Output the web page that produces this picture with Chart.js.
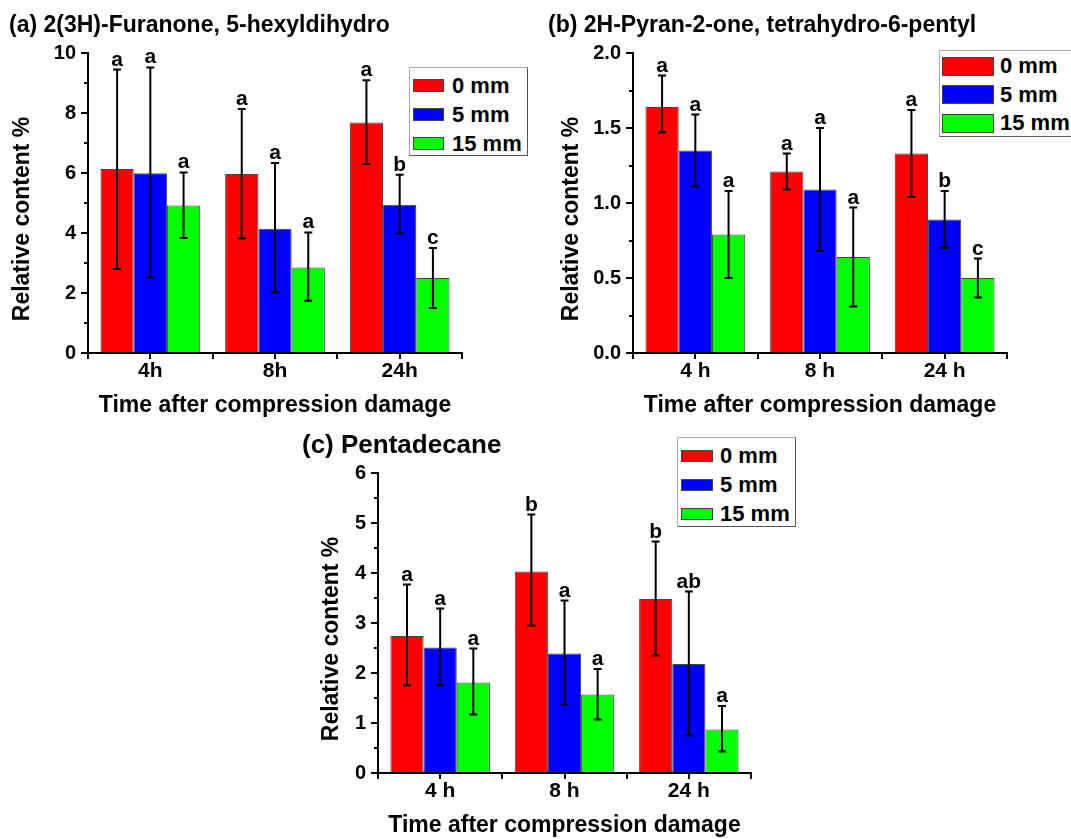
<!DOCTYPE html>
<html>
<head>
<meta charset="utf-8">
<script src="https://cdn.jsdelivr.net/npm/chart.js@4.4.1/dist/chart.umd.min.js"></script>
<style>
  html, body { margin: 0; padding: 0; background: #fff; width: 1071px; height: 839px; overflow: hidden; position: relative; }
  canvas { position: absolute; }
  .legend { position: absolute; box-sizing: border-box; background: #fff; border: 1px solid #aaa; border-right-color: #555; border-bottom-color: #555;
            font: bold 22px "Liberation Sans", Arial, sans-serif; color: #000; overflow: hidden; }
  .legend .row { position: absolute; height: 24px; display: flex; align-items: center; white-space: nowrap; }
  .legend .sw { box-sizing: border-box; border: 1px solid #444; }
</style>
</head>
<body>
<canvas id="chartA" width="470" height="420" style="left:0px;top:0px"></canvas>
<canvas id="chartB" width="531" height="420" style="left:540px;top:0px"></canvas>
<canvas id="chartC" width="520" height="419" style="left:290px;top:420px"></canvas>
<div id="legendA" class="legend" style="left:409px;top:67px;width:119px;height:89px"></div>
<div id="legendB" class="legend" style="left:939px;top:50px;width:200px;height:87px"></div>
<div id="legendC" class="legend" style="left:677px;top:437px;width:119px;height:90px"></div>
<script>
// DATA
const seriesNames = ['0 mm', '5 mm', '15 mm'];
const seriesColors = ['#ff0000', '#0000ff', '#00ff00'];

// (a) 2(3H)-Furanone, 5-hexyldihydro
const timesA = ['4h', '8h', '24h'];
const meanA0 = [6.13, 5.97, 7.68];
const meanA1 = [5.99, 4.14, 4.94];
const meanA2 = [4.92, 2.85, 2.50];
const errA0 = [[2.80, 9.45], [3.82, 8.13], [6.30, 9.09]];
const errA1 = [[2.52, 9.52], [2.02, 6.33], [3.98, 5.94]];
const errA2 = [[3.83, 6.02], [1.74, 4.02], [1.50, 3.50]];
const letA0 = ['a', 'a', 'a'];
const letA1 = ['a', 'a', 'b'];
const letA2 = ['a', 'a', 'c'];

// (b) 2H-Pyran-2-one, tetrahydro-6-pentyl
const timesB = ['4 h', '8 h', '24 h'];
const meanB0 = [1.64, 1.21, 1.33];
const meanB1 = [1.35, 1.09, 0.89];
const meanB2 = [0.79, 0.64, 0.50];
const errB0 = [[1.47, 1.85], [1.09, 1.33], [1.04, 1.62]];
const errB1 = [[1.11, 1.59], [0.68, 1.50], [0.70, 1.08]];
const errB2 = [[0.50, 1.08], [0.31, 0.97], [0.37, 0.63]];
const letB0 = ['a', 'a', 'a'];
const letB1 = ['a', 'a', 'b'];
const letB2 = ['a', 'a', 'c'];

// (c) Pentadecane
const timesC = ['4 h', '8 h', '24 h'];
const meanC0 = [2.74, 4.03, 3.48];
const meanC1 = [2.51, 2.39, 2.18];
const meanC2 = [1.81, 1.57, 0.87];
const errC0 = [[1.75, 3.77], [2.95, 5.17], [2.35, 4.63]];
const errC1 = [[1.75, 3.29], [1.36, 3.45], [0.75, 3.63]];
const errC2 = [[1.17, 2.49], [1.07, 2.08], [0.43, 1.34]];
const letC0 = ['a', 'b', 'b'];
const letC1 = ['a', 'a', 'ab'];
const letC2 = ['a', 'a', 'a'];

const FONT = '"Liberation Sans", Arial, sans-serif';
Chart.defaults.font.family = FONT;
Chart.defaults.color = '#000';

// ERROR BARS, LETTERS AND EXTRA TICKS
const errorBarPlugin = {
  id: 'errorBars',
  afterDatasetsDraw(chart, args, opts) {
    const ctx = chart.ctx;
    const y = chart.scales.y;
    const x = chart.scales.x;
    const area = chart.chartArea;
    ctx.save();
    ctx.strokeStyle = '#000';
    ctx.fillStyle = '#000';
    ctx.lineWidth = 2;
    ctx.font = 'bold 21px ' + FONT;
    ctx.textAlign = 'center';
    ctx.textBaseline = 'alphabetic';

    chart.data.datasets.forEach((ds, i) => {
      const meta = chart.getDatasetMeta(i);
      meta.data.forEach((bar, j) => {
        const yLo = y.getPixelForValue(ds.errors[j][0]);
        const yHi = y.getPixelForValue(ds.errors[j][1]);
        ctx.beginPath();
        ctx.moveTo(bar.x, yLo); ctx.lineTo(bar.x, yHi);
        ctx.moveTo(bar.x - 4, yLo); ctx.lineTo(bar.x + 4, yLo);
        ctx.moveTo(bar.x - 4, yHi); ctx.lineTo(bar.x + 4, yHi);
        ctx.stroke();
        ctx.fillText(ds.letters[j], bar.x, yHi - 4);
      });
    });

    // minor ticks on y
    ctx.beginPath();
    for (let v = y.min + opts.minorStep; v < y.max; v += opts.minorStep * 2) {
      const py = Math.round(y.getPixelForValue(v));
      ctx.moveTo(area.left - 4, py); ctx.lineTo(area.left, py);
    }
    // ticks at category centres
    chart.data.labels.forEach((l, i) => {
      const px = Math.round(x.getPixelForValue(i));
      ctx.moveTo(px, area.bottom); ctx.lineTo(px, area.bottom + 6);
    });
    ctx.stroke();
    ctx.restore();
  }
};

function makePanel(id, p) {
  const datasets = p.means.map((m, i) => ({
    label: seriesNames[i],
    data: m,
    errors: p.errs[i],
    letters: p.lets[i],
    backgroundColor: seriesColors[i],
    borderColor: '#444',
    borderWidth: 1,
    barPercentage: 1,
    categoryPercentage: 0.8
  }));

  return new Chart(document.getElementById(id), {
    type: 'bar',
    data: { labels: p.labels, datasets: datasets },
    plugins: [errorBarPlugin],
    options: {
      responsive: false,
      animation: false,
      layout: { padding: { left: p.padLeft, right: p.padRight, top: 0, bottom: 0 } },
      plugins: {
        legend: { display: false },
        tooltip: { enabled: false },
        title: {
          display: true,
          text: p.title,
          align: 'start',
          color: '#000',
          font: { size: p.titleSize, weight: 'bold' },
          padding: { top: p.titleTop, bottom: p.titleBottom }
        },
        errorBars: { minorStep: p.minorStep }
      },
      scales: {
        x: {
          afterFit: s => { s.height = p.xHeight; },
          border: { color: '#000', width: 2 },
          grid: { drawOnChartArea: false, drawTicks: true, tickLength: 6, color: '#000', lineWidth: 2 },
          ticks: { color: '#000', padding: 0, font: { size: 21, weight: 'bold' } },
          title: {
            display: true, text: 'Time after compression damage', color: '#000',
            font: { size: 23, weight: 'bold' }, padding: { top: 0, bottom: p.xTitleBottom }
          }
        },
        y: {
          min: 0,
          max: p.yMax,
          afterFit: s => { s.width = p.yWidth; },
          border: { color: '#000', width: 2 },
          grid: { drawOnChartArea: false, drawTicks: true, tickLength: 7, color: '#000', lineWidth: 2 },
          ticks: {
            stepSize: p.yStep, color: '#000', padding: 5,
            font: { size: 20, weight: 'bold' },
            callback: v => v.toFixed(p.yDigits)
          },
          title: {
            display: true, text: 'Relative content %     ', color: '#000',
            font: { size: 23, weight: 'bold' }, padding: { top: p.yTitleTop, bottom: 0 }
          }
        }
      }
    }
  });
}

function buildLegend(id, l) {
  const box = document.getElementById(id);
  seriesNames.forEach((name, i) => {
    const row = document.createElement('div');
    row.className = 'row';
    row.style.left = l.left + 'px';
    row.style.top = (l.first + i * l.step - 12) + 'px';
    const sw = document.createElement('div');
    sw.className = 'sw';
    sw.style.width = l.sw + 'px';
    sw.style.height = l.sh + 'px';
    sw.style.background = seriesColors[i];
    sw.style.marginRight = l.gap + 'px';
    const txt = document.createElement('span');
    txt.textContent = name;
    row.appendChild(sw);
    row.appendChild(txt);
    box.appendChild(row);
  });
}

makePanel('chartA', {
  labels: timesA, means: [meanA0, meanA1, meanA2], errs: [errA0, errA1, errA2], lets: [letA0, letA1, letA2],
  title: '(a) 2(3H)-Furanone, 5-hexyldihydro', titleSize: 23, titleTop: 12, titleBottom: 13.4,
  padLeft: 9, padRight: 8, yWidth: 79, xHeight: 67, xTitleBottom: 1, yTitleTop: 0,
  yMax: 10, yStep: 2, yDigits: 0, minorStep: 1
});

makePanel('chartB', {
  labels: timesB, means: [meanB0, meanB1, meanB2], errs: [errB0, errB1, errB2], lets: [letB0, letB1, letB2],
  title: '(b) 2H-Pyran-2-one, tetrahydro-6-pentyl', titleSize: 23, titleTop: 12, titleBottom: 13.4,
  padLeft: 8, padRight: 64, yWidth: 85, xHeight: 67, xTitleBottom: 1, yTitleTop: 10,
  yMax: 2, yStep: 0.5, yDigits: 1, minorStep: 0.25
});

makePanel('chartC', {
  labels: timesC, means: [meanC0, meanC1, meanC2], errs: [errC0, errC1, errC2], lets: [letC0, letC1, letC2],
  title: '(c) Pentadecane', titleSize: 26, titleTop: 10.4, titleBottom: 11.4,
  padLeft: 12, padRight: 59, yWidth: 76, xHeight: 66, xTitleBottom: 0, yTitleTop: 16,
  yMax: 6, yStep: 1, yDigits: 0, minorStep: 0.5
});

buildLegend('legendA', { left: 3, first: 17.5, step: 29, sw: 31, sh: 13, gap: 8 });
buildLegend('legendB', { left: 2, first: 15, step: 28.5, sw: 52, sh: 19, gap: 6 });
buildLegend('legendC', { left: 3, first: 18, step: 29, sw: 32, sh: 12, gap: 7 });
</script>
</body>
</html>
